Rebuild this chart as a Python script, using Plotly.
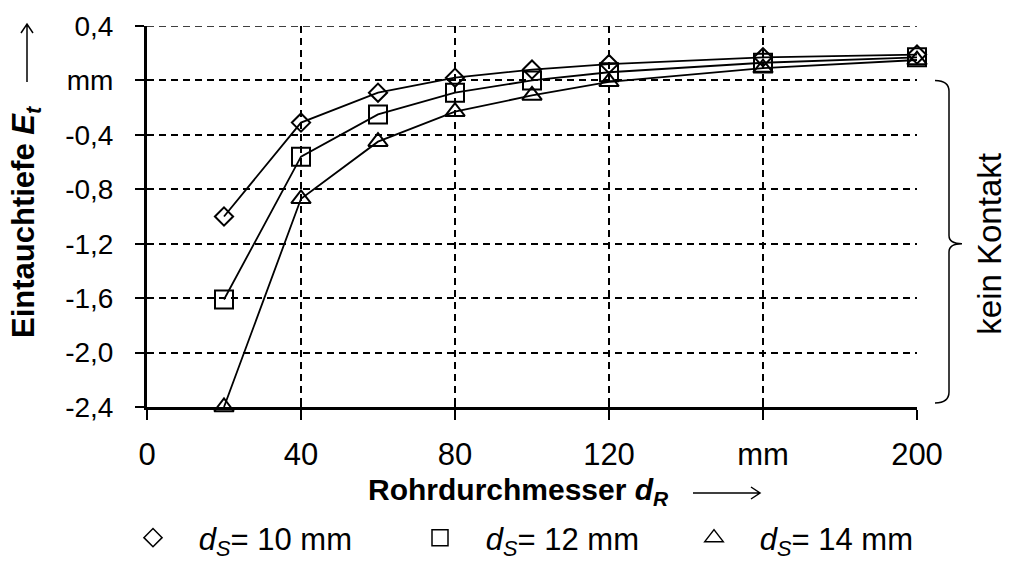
import plotly.graph_objects as go

# ---- data ----
d_r = [20, 40, 60, 80, 100, 120, 160, 200]
e_ds10 = [-1.00, -0.31, -0.09, 0.02, 0.08, 0.12, 0.17, 0.19]
e_ds12 = [-1.61, -0.56, -0.25, -0.09, 0.00, 0.06, 0.13, 0.17]
e_ds14 = [-2.40, -0.87, -0.45, -0.23, -0.11, -0.01, 0.09, 0.15]
series_names = ["<i>d<sub>S</sub></i>= 10 mm", "<i>d<sub>S</sub></i>= 12 mm", "<i>d<sub>S</sub></i>= 14 mm"]
x_tickvals = [0, 40, 80, 120, 160, 200]
x_ticktext = ["0", "40", "80", "120", "mm", "200"]
y_tickvals = [0.4, 0.0, -0.4, -0.8, -1.2, -1.6, -2.0, -2.4]
y_ticktext = ["0,4", "mm", "-0,4", "-0,8", "-1,2", "-1,6", "-2,0", "-2,4"]

FONT = "Liberation Sans, Arial, sans-serif"
W, H = 1010, 561
ML, MR, MT, MB = 147, 93, 26, 154
PW = W - ML - MR
PH = H - MT - MB


def px_x(p):
    return (p - ML) / PW


def px_y(p):
    return (H - MB - p) / PH


symbols = ["diamond-open", "square-open", "triangle-up-open"]
sizes = [14, 18, 17]
series = [e_ds10, e_ds12, e_ds14]

fig = go.Figure()
for ys, sym, sz in zip(series, symbols, sizes):
    fig.add_trace(go.Scatter(
        x=d_r, y=ys, mode="lines+markers",
        line=dict(color="black", width=1.8),
        marker=dict(symbol=sym, size=sz, color="black", line=dict(width=2, color="black")),
        showlegend=False, cliponaxis=False,
    ))

legend_keys = ["legend", "legend2", "legend3"]
legend_sym_centers = [153, 440, 714]
for name, sym, sz, lk in zip(series_names, symbols, sizes, legend_keys):
    fig.add_trace(go.Scatter(
        x=[None], y=[None], mode="markers", name="&nbsp;&nbsp;&nbsp;" + name,
        marker=dict(symbol=sym, size=min(sz, 16), color="black", line=dict(width=1.5, color="black")),
        showlegend=True, legend=lk,
    ))

# dummy trace for crossing ticks axis
fig.add_trace(go.Scatter(x=[None], y=[None], xaxis="x2", showlegend=False))

grid = dict(showgrid=True, gridcolor="black", gridwidth=1.5, griddash="7px,5px")

fig.update_layout(
    width=W, height=H,
    margin=dict(l=ML, r=MR, t=MT, b=MB, autoexpand=False),
    paper_bgcolor="white", plot_bgcolor="white",
    font=dict(family=FONT, color="black", size=24),
    xaxis=dict(range=[0, 200], tickvals=x_tickvals, ticktext=x_ticktext,
               ticks="outside", ticklen=10, tickwidth=1.5, tickcolor="black",
               showline=True, linecolor="black", linewidth=3,
               zeroline=False, tickfont=dict(size=31), ticklabelstandoff=8, **grid),
    xaxis2=dict(range=[0, 200], overlaying="x", anchor="y", side="bottom",
                tickvals=x_tickvals, ticks="inside", ticklen=5, tickwidth=1.5, tickcolor="black",
                showticklabels=False, showgrid=False, showline=False, zeroline=False),
    yaxis=dict(range=[-2.4, 0.4], tickvals=y_tickvals, ticktext=y_ticktext,
               ticks="outside", ticklen=9, tickwidth=1.5, tickcolor="black",
               showline=True, linecolor="black", linewidth=3,
               zeroline=False, tickfont=dict(size=28), ticklabelstandoff=16, **grid),
)

for lk, cx in zip(legend_keys, legend_sym_centers):
    fig.update_layout({lk: dict(x=px_x(cx - 20), xanchor="left", y=px_y(538), yanchor="middle",
                                orientation="h", bgcolor="rgba(0,0,0,0)", borderwidth=0,
                                font=dict(size=31, family=FONT), itemsizing="trace")})

# top dashed grid line at 0.4
fig.add_shape(type="line", xref="paper", yref="y", x0=0, x1=1, y0=0.4, y1=0.4,
              line=dict(color="black", width=1.5, dash="7px,5px"))

# axis titles
fig.add_annotation(x=px_x(26), y=px_y(222), xref="paper", yref="paper", showarrow=False,
                   text="<b>Eintauchtiefe <i>E<sub>t</sub></i></b>", textangle=-90,
                   font=dict(size=31, family=FONT), xanchor="center", yanchor="middle")
fig.add_annotation(x=px_x(366), y=px_y(491), xref="paper", yref="paper", showarrow=False,
                   text="<b>Rohrdurchmesser <i>d<sub>R</sub></i></b>",
                   font=dict(size=30, family=FONT), xanchor="left", yanchor="middle")

# arrows (open head) drawn as shapes in paper coordinates
def arrow_h(x0, x1, y, head=9, half=6):
    return (f"M {px_x(x0)},{px_y(y)} L {px_x(x1)},{px_y(y)} "
            f"M {px_x(x1 - head)},{px_y(y - half)} L {px_x(x1)},{px_y(y)} L {px_x(x1 - head)},{px_y(y + half)}")


def arrow_v(x, y0, y1, head=9, half=6):
    return (f"M {px_x(x)},{px_y(y0)} L {px_x(x)},{px_y(y1)} "
            f"M {px_x(x - half)},{px_y(y1 + head)} L {px_x(x)},{px_y(y1)} L {px_x(x + half)},{px_y(y1 + head)}")


fig.add_shape(type="path", path=arrow_h(693, 760, 493), xref="paper", yref="paper",
              line=dict(color="black", width=1.5))
fig.add_shape(type="path", path=arrow_v(27, 82, 24), xref="paper", yref="paper",
              line=dict(color="black", width=1.5))

# brace "kein Kontakt"
bx0, bx1, bx2 = px_x(935), px_x(949), px_x(962)
ytop, ybot, ymid = 0.0, -2.37, -1.2
path = (f"M {bx0},{ytop} Q {bx1},{ytop} {bx1},{ytop - 0.08} "
        f"L {bx1},{ymid + 0.06} Q {bx1},{ymid} {bx2},{ymid} "
        f"Q {bx1},{ymid} {bx1},{ymid - 0.06} "
        f"L {bx1},{ybot + 0.08} Q {bx1},{ybot} {bx0},{ybot}")
fig.add_shape(type="path", path=path, xref="paper", yref="y",
              line=dict(color="black", width=1.5))
fig.add_annotation(x=px_x(990), y=-1.2, xref="paper", yref="y", showarrow=False,
                   text="kein Kontakt", textangle=-90,
                   font=dict(size=33, family=FONT), xanchor="center", yanchor="middle")

fig.write_html("out.html")
